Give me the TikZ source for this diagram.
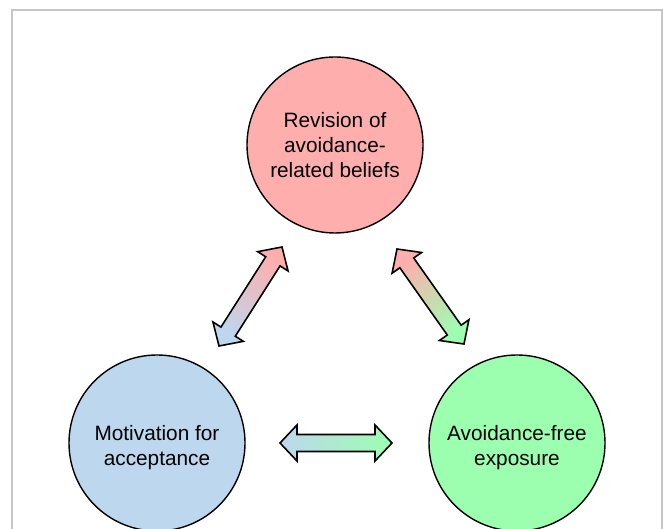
\documentclass[tikz,border=0pt]{standalone}
\usepackage{fontspec}
\setmainfont{Liberation Sans}
\usetikzlibrary{calc}
\definecolor{beliefred}{RGB}{255,174,174}
\definecolor{motiveblue}{RGB}{189,215,238}
\definecolor{exposegreen}{RGB}{156,255,176}
\newcommand{\arrhead}{17pt}
\newcommand{\arrwide}{18pt}
\newcommand{\arrshaft}{8.5pt}
\newcommand{\dblarrow}[3]{%
  \shadedraw[line width=1.6pt, line join=miter, #3] (#1)
    -- ($($(#1)!\arrhead!(#2)$)!\arrwide!90:(#2)$)
    -- ($($(#1)!\arrhead!(#2)$)!\arrshaft!90:(#2)$)
    -- ($($(#2)!\arrhead!(#1)$)!\arrshaft!-90:(#1)$)
    -- ($($(#2)!\arrhead!(#1)$)!\arrwide!-90:(#1)$)
    -- (#2)
    -- ($($(#2)!\arrhead!(#1)$)!\arrwide!90:(#1)$)
    -- ($($(#2)!\arrhead!(#1)$)!\arrshaft!90:(#1)$)
    -- ($($(#1)!\arrhead!(#2)$)!\arrshaft!-90:(#2)$)
    -- ($($(#1)!\arrhead!(#2)$)!\arrwide!-90:(#2)$)
    -- cycle;}

\begin{document}
\begin{tikzpicture}[x=1pt, y=1pt]
    \useasboundingbox (0, 0) rectangle (663, 529);
    \draw[gray!45, line width=1.5pt] (12, -5) rectangle (662, 519);
    \begin{scope}[every node/.style={circle, draw, line width=1.4pt, minimum size=176pt, align=center, font=\fontsize{20.8}{25}\selectfont}]
      \node[fill=beliefred] (rev) at (335, 384) {Revision of\\avoidance-\\related beliefs};
      \node[fill=motiveblue, text height=50pt] (mot) at (157, 86) {Motivation for\\acceptance};
      \node[fill=exposegreen, text height=50pt] (exp) at (517, 86) {Avoidance-free\\exposure};
    \end{scope}

    \coordinate (mot1) at (219, 183);
    \coordinate (rev1) at (282, 282);
    \coordinate (rev2) at (397, 280);
    \coordinate (exp2) at (464, 185);
    \coordinate (mot3) at (280, 86);
    \coordinate (exp3) at (392, 86);

    \dblarrow{mot1}{rev1}{top color=beliefred, bottom color=motiveblue, shading angle=-32.5}
    \dblarrow{exp2}{rev2}{top color=beliefred, bottom color=exposegreen, shading angle=35.2}
    \dblarrow{mot3}{exp3}{left color=motiveblue, right color=exposegreen}
  \end{tikzpicture}
\end{document}
